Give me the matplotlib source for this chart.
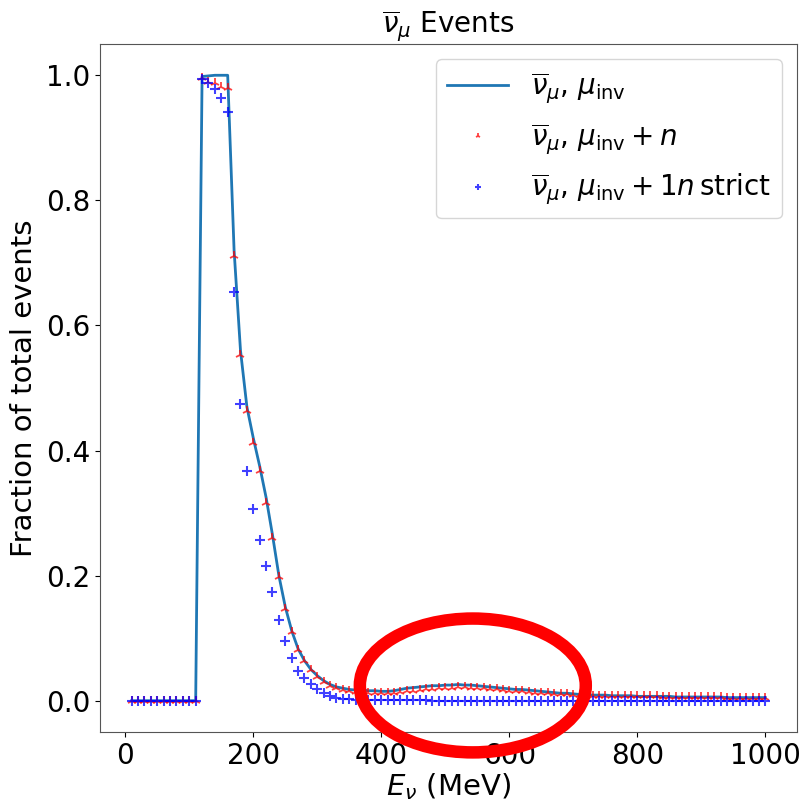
import numpy as np
import matplotlib
matplotlib.use("Agg")
import matplotlib.pyplot as plt
from matplotlib.patches import Ellipse

energy = list(range(10, 1001, 10))

line_vals = [0.0] * 11 + [0.998, 0.999, 1.0, 1.0, 1.0,
             0.72, 0.56, 0.47, 0.42, 0.375, 0.325, 0.265, 0.20, 0.15, 0.112,
             0.083, 0.064, 0.050, 0.040, 0.032, 0.026, 0.022, 0.020, 0.018, 0.017,
             0.017, 0.016, 0.016, 0.015, 0.015, 0.016, 0.018, 0.020, 0.021, 0.022,
             0.023, 0.024, 0.024, 0.025, 0.025, 0.026, 0.025, 0.025, 0.024, 0.023,
             0.022, 0.021, 0.020, 0.019, 0.018, 0.018, 0.017, 0.016, 0.015, 0.014,
             0.013, 0.012, 0.012, 0.011, 0.010, 0.010, 0.009, 0.009, 0.009, 0.008,
             0.008, 0.008, 0.008, 0.007, 0.007, 0.007, 0.007, 0.007, 0.007, 0.006,
             0.006, 0.006, 0.006, 0.006, 0.006, 0.006, 0.006, 0.005, 0.005, 0.005,
             0.005, 0.005, 0.005, 0.005]

red_vals = [0.0] * 11 + [0.995, 0.99, 0.988, 0.982, 0.979,
            0.711, 0.552, 0.463, 0.412, 0.367, 0.316, 0.26, 0.198, 0.147, 0.11,
            0.081, 0.063, 0.049, 0.038, 0.030, 0.024, 0.020, 0.017, 0.015, 0.014,
            0.013, 0.012, 0.012, 0.012, 0.012, 0.013, 0.014, 0.015, 0.016, 0.017,
            0.018, 0.019, 0.020, 0.021, 0.021, 0.022, 0.022, 0.021, 0.021, 0.020,
            0.019, 0.018, 0.017, 0.016, 0.016, 0.015, 0.014, 0.013, 0.012, 0.012,
            0.011, 0.010, 0.010, 0.009, 0.009, 0.009, 0.008, 0.008, 0.008, 0.008,
            0.008, 0.007, 0.007, 0.007, 0.007, 0.007, 0.007, 0.006, 0.006, 0.006,
            0.006, 0.006, 0.006, 0.006, 0.006, 0.006, 0.006, 0.005, 0.005, 0.005,
            0.005, 0.005, 0.005, 0.005]

blue_vals = [0.0] * 11 + [0.994, 0.988, 0.978, 0.963, 0.942,
             0.653, 0.474, 0.367, 0.306, 0.257, 0.215, 0.174, 0.129, 0.095, 0.068,
             0.048, 0.036, 0.026, 0.018, 0.012, 0.008, 0.005, 0.003, 0.002, 0.0015,
             0.001] + [0.0005] * 10 + [0.0003] * 20 + [0.0002] * 33

fig = plt.figure(figsize=(8.01, 8.11), dpi=100)
ax = fig.add_axes([100 / 801, 1 - 732 / 811, 697 / 801, 688 / 811])

ax.plot(energy, line_vals, color="#1f77b4", lw=2.0,
        label=r"$\overline{\nu}_\mu$, $\mu_{\rm inv}$")
ax.plot(energy, red_vals, ls="none", marker="2", color="red", ms=7, mew=1.3, alpha=0.75,
        label=r"$\overline{\nu}_\mu$, $\mu_{\rm inv} + n$")
ax.plot(energy, blue_vals, ls="none", marker="+", color="blue", ms=7, mew=1.5, alpha=0.75,
        label=r"$\overline{\nu}_\mu$, $\mu_{\rm inv} + 1n\,$strict")

ax.set_xticks([0, 200, 400, 600, 800, 1000])
ax.set_yticks([0.0, 0.2, 0.4, 0.6, 0.8, 1.0])
ax.tick_params(labelsize=20)
ax.set_xlabel(r"$E_\nu$ (MeV)", fontsize=21, labelpad=1)
ax.set_ylabel("Fraction of total events", fontsize=21, labelpad=6)
ax.set_title(r"$\overline{\nu}_\mu$ Events", fontsize=20, pad=7)
for s in ax.spines.values():
    s.set_color("#555555")

ax.legend(loc="upper right", fontsize=20, markerscale=0.6, labelspacing=0.55,
          handlelength=2.2, borderaxespad=0.55)

ell = Ellipse((543, 0.0244), width=353, height=0.214, fill=False,
              edgecolor="red", lw=9, clip_on=False, zorder=10)
ax.add_patch(ell)

fig.savefig("out.png", dpi=100)
